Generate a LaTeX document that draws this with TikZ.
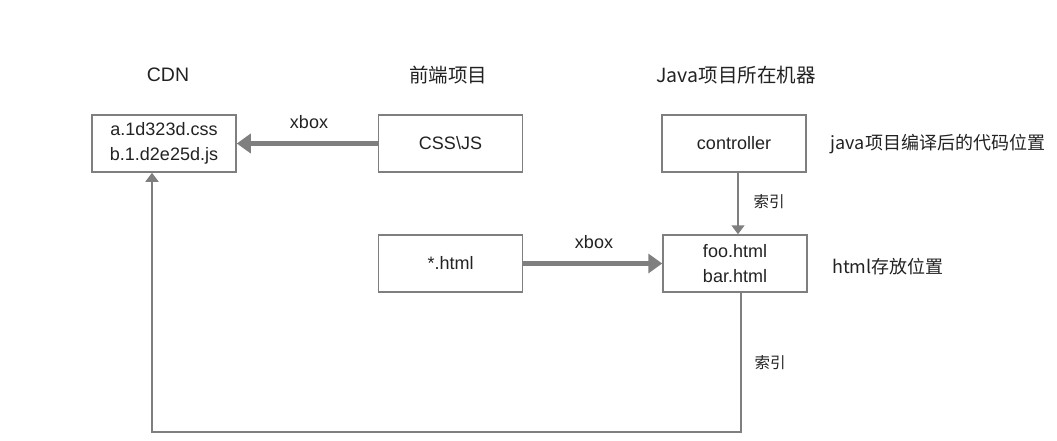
\documentclass[tikz,border=0pt]{standalone}
\usepackage{fontspec}
\setmainfont{Liberation Sans}
\newfontfamily\cjk{Noto Sans CJK SC}
\usetikzlibrary{arrows.meta}
\definecolor{edge}{HTML}{7F7F7F}
\definecolor{ink}{HTML}{222222}
\begin{document}
\begin{tikzpicture}[x=1pt,y=-1pt,
  every node/.style={text=ink,font=\fontsize{18}{25}\selectfont},
  boxnode/.style={draw=edge,line width=1.5pt,minimum width=144pt,minimum height=57pt,align=center,inner sep=0pt},
  lbl/.style={inner sep=0pt},
  title/.style={inner sep=0pt,font=\fontsize{19.5}{24}\selectfont},
  thick arrow/.style={draw=edge,line width=5pt,-{Triangle[length=14pt,width=19pt]}},
  thin arrow/.style={draw=edge,line width=1.5pt,-{Triangle[length=9pt,width=13pt]}}]
\useasboundingbox (0,0) rectangle (1057,441);
% titles
\node[title] (tcdn) at (168,75) {CDN};
\node[title] (tfe) at (448,75) {\cjk 前端项目};
\node[title] (tjava) at (736,75) {\cjk Java项目所在机器};
% boxes
\node[boxnode] (cdn) at (164,143.5) {a.1d323d.css\\b.1.d2e25d.js};
\node[boxnode] (cssjs) at (450.5,143.5) {CSS\textbackslash JS};
\node[boxnode] (ctrl) at (734,143.5) {controller};
\node[boxnode] (html) at (450.5,263.5) {*.html};
\node[boxnode] (foo) at (735,263.5) {foo.html\\bar.html};
% side labels
\node[lbl] (ljava) at (938,144) {\cjk java项目编译后的代码位置};
\node[lbl] (lhtml) at (888,267) {\cjk html存放位置};
% connectors
\draw[thick arrow] (cssjs.west) -- (cdn.east);
\node[lbl] (x1) at (309,122) {xbox};
\draw[thick arrow] (html.east) -- (foo.west);
\node[lbl] (x2) at (594,242) {xbox};
\coordinate (a1) at (738,0);
\draw[thin arrow] (ctrl.south -| a1) -- (foo.north -| a1);
\node[lbl] (s1) at (769,202) {\cjk\fontsize{15.5}{18}\selectfont 索引};
\coordinate (c1) at (741,432);
\coordinate (c2) at (152,432);
\draw[thin arrow] (foo.south -| c1) -- (c1) -- (c2) -- (c2 |- cdn.south);
\node[lbl] (s2) at (770,363) {\cjk\fontsize{15.5}{18}\selectfont 索引};
\end{tikzpicture}
\end{document}
